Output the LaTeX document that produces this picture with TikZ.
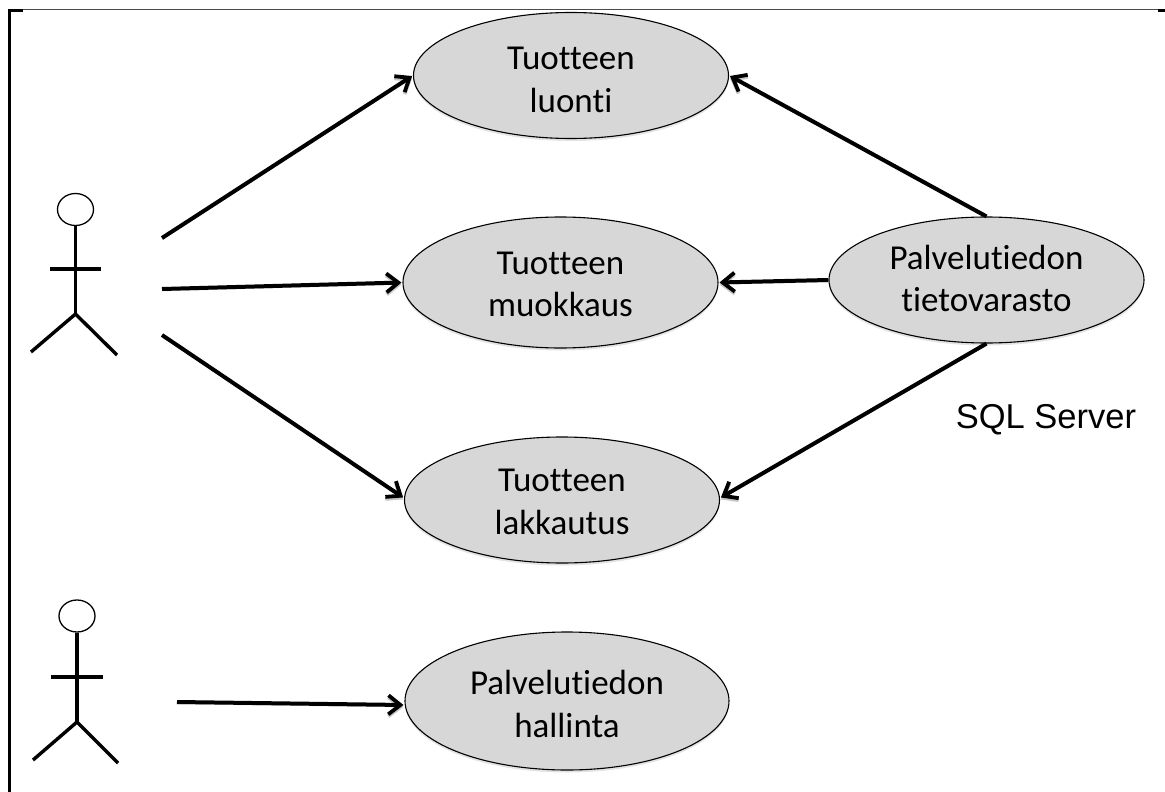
\documentclass[tikz,border=0pt]{standalone}
\usepackage{fontspec}
\setmainfont[Ligatures=NoCommon]{Carlito}
\newfontfamily\arialf{Liberation Sans}
\usetikzlibrary{shapes.geometric,arrows.meta,shadows}
\definecolor{usefill}{RGB}{215,215,215}
\newcommand{\uclines}[3][32pt]{\rule{0pt}{#1}#2\\#3\rule[-5pt]{0pt}{5pt}}
\tikzset{
  usecase/.style={ellipse,draw=black,line width=1.1pt,fill=usefill,minimum width=315pt,minimum height=126pt,inner sep=0pt,align=center,font=\fontsize{35}{42.5}\selectfont,
    drop shadow={opacity=0.22,shadow xshift=0pt,shadow yshift=-2.5pt}},
  link/.style={line width=4pt,-{Straight Barb[length=12pt,width=19pt,line width=3.8pt]},shorten >=1pt,
    preaction={draw,black!22,transform canvas={yshift=-2pt}}},
  limb/.style={line width=3.4pt,preaction={draw,black!22,transform canvas={yshift=-1.5pt}}},
  headc/.style={ellipse,draw=black,line width=1.3pt,fill=white,minimum width=36pt,minimum height=32pt,inner sep=0pt},
  label/.style={font=\arialf\fontsize{34.5}{40}\selectfont,inner sep=0pt}
}
\begin{document}
\begin{tikzpicture}[x=1pt,y=-1pt]
\useasboundingbox (0,0) rectangle (1165,792);
% frame
\draw[line width=0.9pt,black!70] (10,9.5) -- (1165,9.5);
\draw[line width=3pt] (9,792) -- (9,10.3) -- (23,10.3);
\draw[line width=3pt] (1158,10.3) -- (1165,10.3);
% use cases
\node[usecase] (luonti) at (571,75.5) {\uclines[36pt]{Tuotteen}{luonti}};
\node[usecase,minimum height=131pt] (muokkaus) at (560.5,282.5) {\uclines[31pt]{Tuotteen}{muokkaus}};
\node[usecase] (lakkautus) at (562,500) {\uclines[31pt]{Tuotteen}{lakkautus}};
\node[usecase,minimum width=324pt,minimum height=138pt] (hallinta) at (567,701) {\uclines[35pt]{Palvelutiedon}{hallinta}};
\node[usecase] (varasto) at (986.5,280) {\uclines[26pt]{Palvelutiedon}{tietovarasto}};
\node[label] (sql) at (1046,420) {SQL Server};
% actor 1
\coordinate (hip1) at (75.5,314);
\coordinate (arml1) at (50,269);
\coordinate (armr1) at (101,269);
\coordinate (legl1) at (31,352);
\coordinate (legr1) at (117,355);
\node[headc] (head1) at (75.5,209.5) {};
\draw[limb] (head1.south) -- (hip1);
\draw[limb] (arml1) -- (armr1);
\draw[limb] (legl1) -- (hip1) -- (legr1);
% actor 2
\coordinate (hip2) at (77,722);
\coordinate (arml2) at (51,677);
\coordinate (armr2) at (103,677);
\coordinate (legl2) at (33,760);
\coordinate (legr2) at (118,763);
\node[headc] (head2) at (77,616) {};
\draw[limb] (head2.south) -- (hip2);
\draw[limb] (arml2) -- (armr2);
\draw[limb] (legl2) -- (hip2) -- (legr2);
% connector ends
\coordinate (a1) at (162,238);
\coordinate (a2) at (162,289);
\coordinate (a3) at (162,335);
\coordinate (a4) at (177,702);
\coordinate (h4) at ([yshift=-4pt]hallinta.west);
\coordinate (l3) at ([yshift=2pt]lakkautus.west);
\coordinate (l3e) at ([yshift=2pt]lakkautus.east);
% connectors
\draw[link] (a1) -- (luonti.west);
\draw[link] (a2) -- (muokkaus.west);
\draw[link] (a3) -- (l3);
\draw[link] (a4) -- (h4);
\draw[link] (varasto.north) -- (luonti.east);
\draw[link] (varasto.west) -- (muokkaus.east);
\draw[link] (varasto.south) -- (l3e);
\end{tikzpicture}
\end{document}
